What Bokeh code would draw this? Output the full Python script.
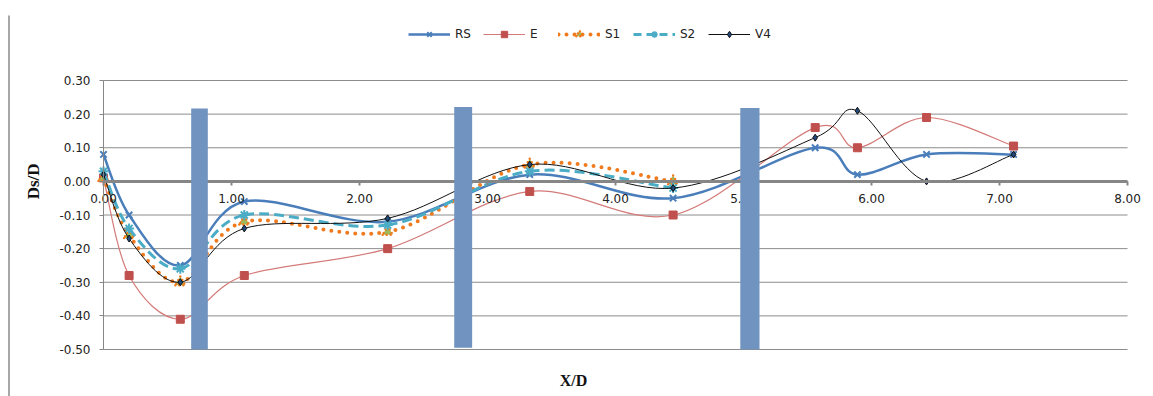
import math
from bokeh.plotting import figure
from bokeh.models import (ColumnDataSource, FixedTicker, NumeralTickFormatter,
                          Legend, LegendItem, Label, Range1d)
from bokeh.embed import file_html
from bokeh.resources import INLINE

# ---- data ----
x_all = [0.00, 0.20, 0.60, 1.10, 2.22, 3.33, 4.45, 5.56, 5.89, 6.43, 7.11]
x_short = [0.00, 0.20, 0.60, 1.10, 2.22, 3.33, 4.45]
rs = [0.08, -0.10, -0.25, -0.06, -0.12, 0.02, -0.05, 0.10, 0.02, 0.08, 0.08]
e = [0.01, -0.28, -0.41, -0.28, -0.20, -0.03, -0.10, 0.16, 0.10, 0.19, 0.105]
s1 = [0.01, -0.16, -0.30, -0.12, -0.15, 0.05, 0.00]
s2 = [0.03, -0.14, -0.26, -0.10, -0.13, 0.03, -0.02]
v4 = [0.02, -0.17, -0.30, -0.14, -0.11, 0.05, -0.02, 0.13, 0.21, 0.00, 0.08]

pier_x = [0.75, 2.81, 5.05]
pier_w = [0.13, 0.14, 0.15]
pier_top = [0.217, 0.221, 0.218]
pier_bottom = [-0.50, -0.495, -0.50]

x_ticks = [0, 1, 2, 3, 4, 5, 6, 7, 8]
y_ticks = [-0.5, -0.4, -0.3, -0.2, -0.1, 0.0, 0.1, 0.2, 0.3]

# ---- layout (pixels on the page) ----
W, H = 1153, 396
AX_L, AX_R = 103, 1127      # x = 0 .. 8
AX_T, AX_B = 80, 349        # y = 0.3 .. -0.5
XMIN, XMAX = x_ticks[0], x_ticks[-1]
YMIN, YMAX = y_ticks[0], y_ticks[-1]
sx = (AX_R - AX_L) / (XMAX - XMIN)
sy = (AX_B - AX_T) / (YMAX - YMIN)
NAN = float("nan")


def px_x(px):
    return XMIN + (px - AX_L) / sx


def px_y(py):
    return YMAX - (py - AX_T) / sy


def smooth_source(xs, ys, t=1.0 / 6.0):
    n = len(xs)
    d = dict(x0=[], y0=[], x1=[], y1=[], cx0=[], cy0=[], cx1=[], cy1=[])
    for i in range(n - 1):
        a = max(i - 1, 0)
        b = min(i + 2, n - 1)
        d["x0"].append(xs[i]); d["y0"].append(ys[i])
        d["x1"].append(xs[i + 1]); d["y1"].append(ys[i + 1])
        d["cx0"].append(xs[i] + (xs[i + 1] - xs[a]) * t)
        d["cy0"].append(ys[i] + (ys[i + 1] - ys[a]) * t)
        d["cx1"].append(xs[i + 1] - (xs[b] - xs[i]) * t)
        d["cy1"].append(ys[i + 1] - (ys[b] - ys[i]) * t)
    return ColumnDataSource(d)


p = figure(width=W, height=H, output_backend="svg", toolbar_location=None,
           x_range=Range1d(px_x(0), px_x(W)), y_range=Range1d(px_y(H), px_y(0)),
           min_border_left=0, min_border_right=0, min_border_top=0,
           min_border_bottom=0)
p.outline_line_color = None
p.background_fill_color = "white"
p.xgrid.visible = False
p.ygrid.visible = False

# chart-area border on the left
p.segment(x0=[px_x(8.5)], y0=[px_y(15)], x1=[px_x(8.5)], y1=[px_y(H)],
          line_color="#8a8a8a", line_width=1.5)

# horizontal gridlines
p.segment(x0=[XMIN] * len(y_ticks), x1=[XMAX] * len(y_ticks), y0=y_ticks, y1=y_ticks,
          line_color="#8c8c8c", line_width=1)

tick_font = "DejaVu Sans"
p.xaxis.ticker = FixedTicker(ticks=x_ticks)
p.xaxis.formatter = NumeralTickFormatter(format="0.00")
p.xaxis.fixed_location = 0
p.xaxis.bounds = (XMIN, XMAX)
p.xaxis.axis_line_color = "#868686"
p.xaxis.axis_line_width = 3
p.xaxis.major_tick_line_color = "#868686"
p.xaxis.major_tick_line_width = 2
p.xaxis.major_tick_out = 4
p.xaxis.major_tick_in = 0
p.xaxis.minor_tick_line_color = None
p.xaxis.major_label_standoff = 9
p.xaxis.major_label_text_font = tick_font
p.xaxis.major_label_text_font_size = "12px"
p.xaxis.major_label_text_color = "#222222"

p.yaxis.ticker = FixedTicker(ticks=y_ticks)
p.yaxis.formatter = NumeralTickFormatter(format="0.00")
p.yaxis.fixed_location = 0
p.yaxis.bounds = (YMIN, YMAX)
p.yaxis.axis_line_color = "#868686"
p.yaxis.major_tick_line_color = "#868686"
p.yaxis.major_tick_out = 4
p.yaxis.major_tick_in = 0
p.yaxis.minor_tick_line_color = None
p.yaxis.major_label_standoff = 9
p.yaxis.major_label_text_font = tick_font
p.yaxis.major_label_text_font_size = "12px"
p.yaxis.major_label_text_color = "#222222"

# series styles
C_RS = "#4A7EBB"
C_E = "#C0504D"
C_E_LINE = "#D47A78"
C_S1 = "#F07A1E"
C_S1_M = "#9BBB59"
C_S2 = "#4BACC6"
C_V4 = "#111111"

# RS
p.bezier(source=smooth_source(x_all, rs), x0="x0", y0="y0", x1="x1", y1="y1",
         cx0="cx0", cy0="cy0", cx1="cx1", cy1="cy1", line_color=C_RS, line_width=2.5)
m_rs = p.scatter(x_all, rs, marker="x", size=9, line_color=C_RS, line_width=2)
l_rs = p.line([NAN], [NAN], line_color=C_RS, line_width=2.5)

# E
p.bezier(source=smooth_source(x_all, e), x0="x0", y0="y0", x1="x1", y1="y1",
         cx0="cx0", cy0="cy0", cx1="cx1", cy1="cy1", line_color=C_E_LINE, line_width=1.2)
m_e = p.scatter(x_all, e, marker="square", size=8, fill_color=C_E, line_color=C_E)
l_e = p.line([NAN], [NAN], line_color=C_E_LINE, line_width=1.2)

# S1
p.bezier(source=smooth_source(x_short, s1), x0="x0", y0="y0", x1="x1", y1="y1",
         cx0="cx0", cy0="cy0", cx1="cx1", cy1="cy1", line_color=C_S1, line_width=4,
         line_dash="0 8", line_cap="round")
m_s1 = p.scatter(x_short, s1, marker="triangle", size=10, fill_color=C_S1_M,
                 line_color=C_S1, line_width=2.5, line_dash="0 4", line_cap="round")
l_s1 = p.line([NAN], [NAN], line_color=C_S1, line_width=4, line_dash="0 8",
              line_cap="round")

# S2
p.bezier(source=smooth_source(x_short, s2), x0="x0", y0="y0", x1="x1", y1="y1",
         cx0="cx0", cy0="cy0", cx1="cx1", cy1="cy1", line_color=C_S2, line_width=3,
         line_dash="10 5")
m_s2 = p.scatter(x_short, s2, marker="asterisk", size=10, line_color=C_S2, line_width=2)
l_s2 = p.line([NAN], [NAN], line_color=C_S2, line_width=3, line_dash="8 5")

# V4
p.bezier(source=smooth_source(x_all, v4), x0="x0", y0="y0", x1="x1", y1="y1",
         cx0="cx0", cy0="cy0", cx1="cx1", cy1="cy1", line_color=C_V4, line_width=1)
m_v4 = p.scatter(x_all, v4, marker="diamond", size=7, fill_color="#1F497D",
                 line_color=C_V4, line_width=1)
l_v4 = p.line([NAN], [NAN], line_color=C_V4, line_width=1)

# piers
p.vbar(x=pier_x, width=pier_w, top=pier_top, bottom=pier_bottom,
       fill_color="#7093C0", line_color=None, level="overlay")

legend = Legend(items=[
    LegendItem(label="RS", renderers=[l_rs, m_rs]),
    LegendItem(label="E", renderers=[l_e, m_e]),
    LegendItem(label="S1", renderers=[l_s1, m_s1]),
    LegendItem(label="S2", renderers=[l_s2, m_s2]),
    LegendItem(label="V4", renderers=[l_v4, m_v4]),
], orientation="horizontal", location=(405, H - 45), glyph_width=42, glyph_height=16,
    label_standoff=5, spacing=8, padding=3, margin=0,
    label_text_font=tick_font, label_text_font_size="12px",
    label_text_color="#222222", border_line_alpha=0, background_fill_alpha=0)
p.add_layout(legend)

p.add_layout(Label(x=33, y=0.0, x_units="screen", y_units="data", text="Ds/D",
                   angle=math.pi / 2, text_align="center", text_baseline="middle",
                   text_font="Liberation Serif", text_font_style="bold",
                   text_font_size="17px", text_color="#111111"))
p.add_layout(Label(x=px_x(573), y=H - 380, x_units="data", y_units="screen", text="X/D",
                   text_align="center", text_baseline="middle",
                   text_font="Liberation Serif", text_font_style="bold",
                   text_font_size="16px", text_color="#111111"))

open("out.html", "w").write(file_html(p, INLINE))
